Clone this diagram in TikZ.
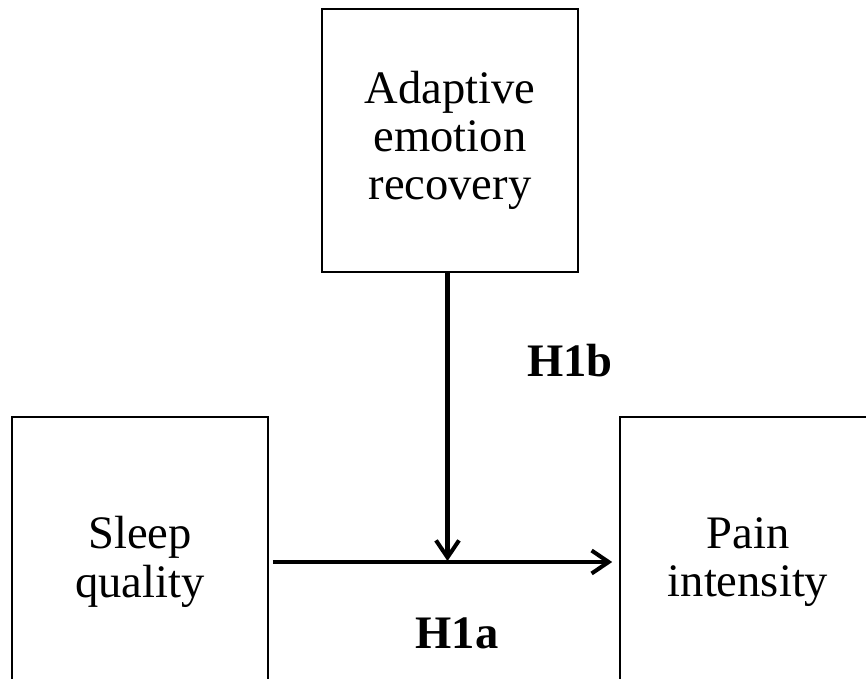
\documentclass[tikz,border=0pt]{standalone}
\usepackage{fontspec}
\setmainfont{Liberation Serif}
\usetikzlibrary{arrows.meta,positioning,calc}

\begin{document}
\begin{tikzpicture}[
    % box style
    varbox/.style={
        draw=black,
        line width=0.9pt,
        fill=white,
        align=center,
        font=\fontsize{26.5}{27.5}\selectfont,
        inner sep=0pt,
        minimum width=5.12cm
    },
    % hypothesis labels
    hyplabel/.style={
        font=\fontsize{26.5}{27.5}\selectfont\bfseries,
        anchor=base
    },
    % arrows
    path/.style={
        line width=2.3pt,
        -{Straight Barb[length=0.34cm,width=0.46cm,line width=2.3pt]}
    }
]

    % --- 1. frame ---
    \useasboundingbox (0,0) rectangle (17.32,13.56);
    \clip (0,0) rectangle (17.32,13.56);

    % --- 2. boxes ---
    \node[varbox, minimum height=5.26cm] (adapt) at (9.0,10.75) {Adaptive\\emotion\\recovery};
    \node[varbox, minimum height=5.8cm] (sleep) at (2.8,2.32) {Sleep\\quality};
    \node[varbox, minimum height=5.8cm] (pain) at (14.96,2.32) {Pain\\intensity};

    % --- 3. paths ---
    \coordinate (meet) at (adapt.south |- sleep.east);
    \draw[path, shorten <=0.08cm, shorten >=0.14cm] (sleep.east) -- (pain.west);
    \draw[path, shorten >=0.02cm] ([xshift=-0.05cm]adapt.south) -- ([xshift=-0.05cm]meet);

    % --- 4. labels ---
    \node[hyplabel] (h1b) at (11.4,6.02) {H1b};
    \node[hyplabel] (h1a) at (9.14,0.6) {H1a};

\end{tikzpicture}
\end{document}
